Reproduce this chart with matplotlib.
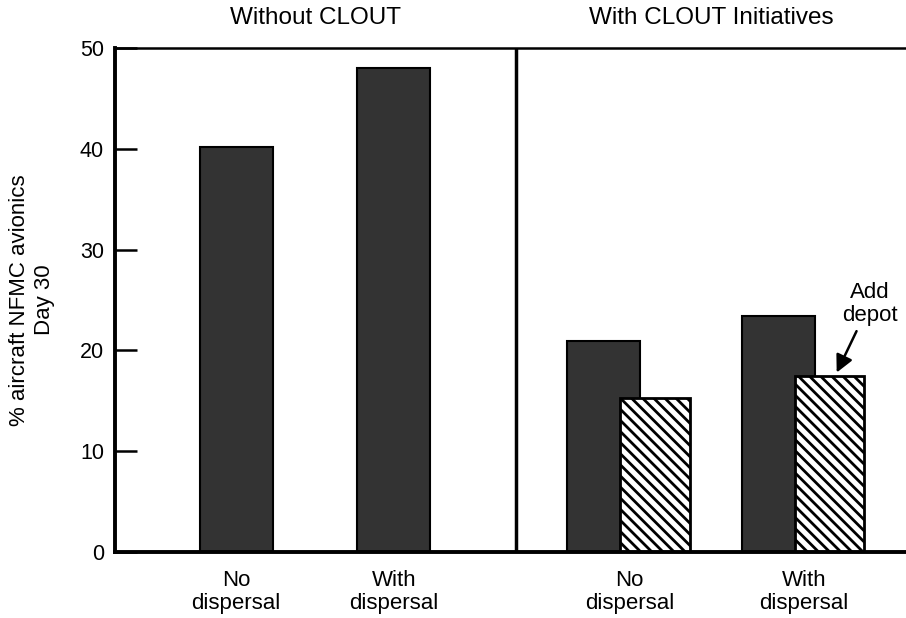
import matplotlib.pyplot as plt
import numpy as np

plt.rcParams['font.family'] = ['Liberation Sans', 'DejaVu Sans']
plt.rcParams['hatch.linewidth'] = 2.0

# values (% aircraft NFMC avionics, day 30)
panels = ['Without CLOUT', 'With CLOUT Initiatives']
groups = ['No\ndispersal', 'With\ndispersal']
without_clout = [40.2, 48.0]
with_clout = [20.9, 23.4]
add_depot = [15.3, 17.5]

# layout (x in bar-width units)
w = 1.0
x_left = np.array([1.66, 3.82])
x_right = np.array([6.70, 9.09])
off = 0.70
divider = 5.49

fig = plt.figure(figsize=(9.06, 6.18), dpi=100)
ax = fig.add_axes([0.127, 0.107, 0.873, 0.815])

dark = '#333333'
ax.bar(x_left, without_clout, w, color=dark, edgecolor='black', lw=1.5)
ax.bar(x_right, with_clout, w, color=dark, edgecolor='black', lw=1.5)
ax.bar(x_right + off, add_depot, w * 0.95, color='white', edgecolor='black',
       hatch='\\' * 3, lw=2)

ax.axvline(divider, color='black', lw=2.5)

ax.set_xlim(0, 10.84)
ax.set_ylim(0, 50)
ax.set_yticks(range(0, 51, 10))
ax.tick_params(axis='y', direction='in', length=16, width=1.8, labelsize=15.5, pad=8)
ax.set_xticks(list(x_left) + list(x_right + off / 2))
ax.set_xticklabels(groups + groups, fontsize=16, linespacing=1.1)
ax.tick_params(axis='x', length=0, pad=13)

ax.spines['right'].set_visible(False)
ax.spines['left'].set_linewidth(2.8)
ax.spines['bottom'].set_linewidth(2.8)
ax.spines['top'].set_linewidth(1.8)

ax.set_ylabel('% aircraft NFMC avionics\nDay 30', fontsize=16, labelpad=18,
              linespacing=1.25)

ax.text((0 + divider) / 2, 53.0, panels[0], ha='center', va='center', fontsize=17.5)
ax.text((divider + 10.84) / 2, 53.0, panels[1], ha='center', va='center', fontsize=17.5)

ax.annotate('Add\ndepot', xy=(9.89, add_depot[1] + 0.3),
            xytext=(10.34, 24.6), ha='center', va='center',
            fontsize=16, linespacing=1.1,
            arrowprops=dict(arrowstyle='-|>', color='black', lw=1.8,
                            mutation_scale=26, shrinkA=2, shrinkB=0))

fig.savefig('out.png', dpi=100)
